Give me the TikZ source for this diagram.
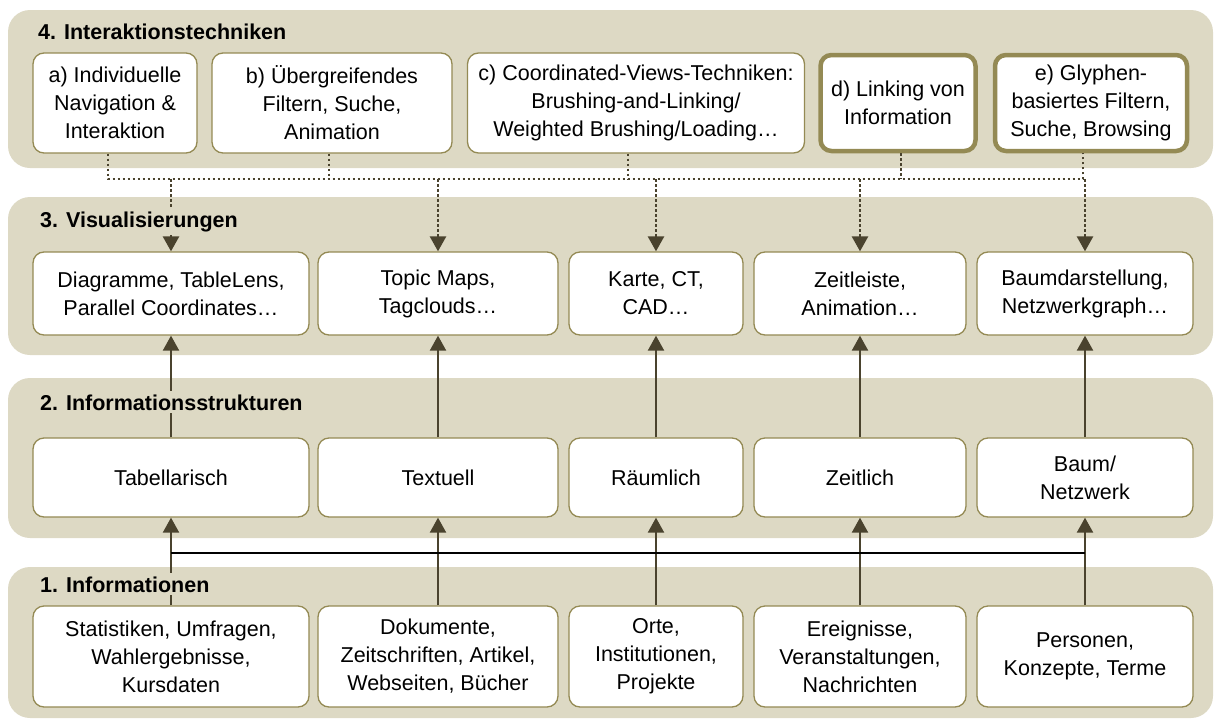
\documentclass[tikz,border=0pt]{standalone}
\usepackage{fontspec}
\setmainfont{Liberation Sans}
\usetikzlibrary{arrows.meta}
\definecolor{bandtan}{RGB}{221,217,196}
\definecolor{boxline}{RGB}{148,138,84}
\definecolor{arrowdark}{RGB}{74,67,46}
\tikzset{
  band/.style={fill=bandtan, rounded corners=22pt},
  box/.style={draw=boxline, line width=1.3pt, fill=white, rounded corners=11pt,
    align=center, inner sep=0pt, font=\fontsize{21.5}{28}\selectfont},
  keybox/.style={box, line width=4.5pt},
  layername/.style={anchor=base west, fill=bandtan, inner sep=3pt,
    font=\fontsize{21.5}{25}\selectfont\bfseries},
  uparrow/.style={draw=arrowdark, line width=2.2pt, -{Triangle[length=15pt,width=16pt]}},
  dotarrow/.style={uparrow, line width=2.6pt, dash pattern=on 2.6pt off 2.4pt},
  busline/.style={draw=arrowdark, line width=2.6pt, dash pattern=on 2.6pt off 2.4pt},
  linkline/.style={draw=black, line width=2pt}
}
\begin{document}
\begin{tikzpicture}[x=1pt, y=-1pt]
\useasboundingbox (0,0) rectangle (1215,720);

% layers
\fill[band] (8,10) rectangle (1213,168);
\fill[band] (8,197) rectangle (1213,355);
\fill[band] (8,378) rectangle (1213,538);
\fill[band] (8,567) rectangle (1213,718);

% 4. Interaktionstechniken
\node[box, minimum width=164pt, minimum height=100pt] (a) at (115,103) {a) Individuelle\\Navigation \&\\Interaktion};
\node[box, minimum width=240pt, minimum height=100pt] (b) at (332,103) {b) Übergreifendes\\Filtern, Suche,\\Animation};
\node[box, minimum width=337pt, minimum height=100pt] (c) at (636,103) {c) Coordinated-Views-Techniken:\\Brushing-and-Linking/\\Weighted Brushing/Loading…};
\node[keybox, minimum width=155pt, minimum height=96pt] (d) at (898,103) {d) Linking von\\Information};
\node[keybox, minimum width=192pt, minimum height=96pt] (e) at (1091,103) {e) Glyphen-\\basiertes Filtern,\\Suche, Browsing};

% 3. Visualisierungen
\node[box, minimum width=276pt, minimum height=83pt] (v1) at (171,293.5) {Diagramme, TableLens,\\Parallel Coordinates…};
\node[box, minimum width=240pt, minimum height=83pt] (v2) at (438,293.5) {Topic Maps,\\Tagclouds…};
\node[box, minimum width=174pt, minimum height=83pt] (v3) at (656,293.5) {Karte, CT,\\CAD…};
\node[box, minimum width=212pt, minimum height=83pt] (v4) at (860,293.5) {Zeitleiste,\\Animation…};
\node[box, minimum width=216pt, minimum height=83pt] (v5) at (1085,293.5) {Baumdarstellung,\\Netzwerkgraph…};

% 2. Informationsstrukturen
\node[box, minimum width=276pt, minimum height=79pt] (s1) at (171,477.5) {Tabellarisch};
\node[box, minimum width=240pt, minimum height=79pt] (s2) at (438,477.5) {Textuell};
\node[box, minimum width=174pt, minimum height=79pt] (s3) at (656,477.5) {Räumlich};
\node[box, minimum width=212pt, minimum height=79pt] (s4) at (860,477.5) {Zeitlich};
\node[box, minimum width=216pt, minimum height=79pt] (s5) at (1085,477.5) {Baum/\\Netzwerk};

% 1. Informationen
\node[box, minimum width=276pt, minimum height=101pt] (i1) at (171,656.5) {Statistiken, Umfragen,\\Wahlergebnisse,\\Kursdaten};
\node[box, minimum width=240pt, minimum height=101pt] (i2) at (438,656.5) {Dokumente,\\Zeitschriften, Artikel,\\Webseiten, Bücher};
\node[box, minimum width=174pt, minimum height=101pt] (i3) at (656,656.5) {Orte,\\Institutionen,\\Projekte};
\node[box, minimum width=212pt, minimum height=101pt] (i4) at (860,656.5) {Ereignisse,\\Veranstaltungen,\\Nachrichten};
\node[box, minimum width=216pt, minimum height=101pt] (i5) at (1085,656.5) {Personen,\\Konzepte, Terme};

% connectors
\coordinate (bus) at (0,179);
\coordinate (link) at (0,553);
\draw[busline] ([xshift=-7pt]a.south) -- ([xshift=-7pt]a.south |- bus) -- ([xshift=-8pt]e.south |- bus) -- ([xshift=-8pt]e.south);
\draw[busline] ([xshift=-3pt]b.south) -- ([xshift=-3pt]b.south |- bus);
\draw[busline] ([xshift=-8pt]c.south) -- ([xshift=-8pt]c.south |- bus);
\draw[busline] ([xshift=3pt]d.south) -- ([xshift=3pt]d.south |- bus);
\foreach \i in {1,...,5} {
  \draw[dotarrow] (v\i.north |- bus) -- (v\i.north);
  \draw[uparrow] (s\i.north) -- (v\i.south);
  \draw[uparrow] (i\i.north) -- (s\i.south);
}
\draw[linkline] (i1.north |- link) -- (i5.north |- link);

% layer names
\node[layername] (l4) at (35,39) {4. Interaktionstechniken};
\node[layername] (l3) at (37,227) {3. Visualisierungen};
\node[layername] (l2) at (37,410) {2. Informationsstrukturen};
\node[layername] (l1) at (37,592) {1. Informationen};
\end{tikzpicture}
\end{document}
